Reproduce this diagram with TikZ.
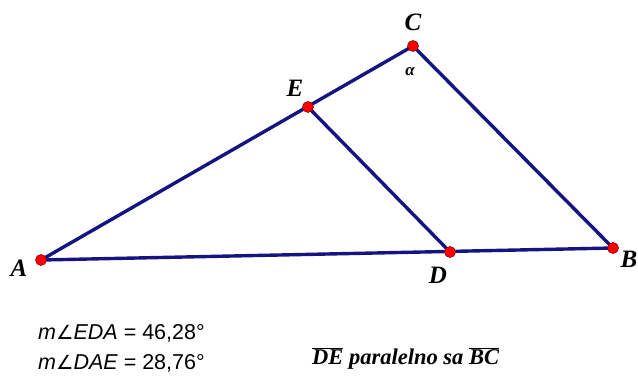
\documentclass[tikz,border=0pt]{standalone}
\usepackage{fontspec}
\setmainfont{Liberation Serif}
\newfontfamily\arialf{Liberation Sans}
\newfontfamily\dejaf{DejaVu Sans}
\begin{document}
\begin{tikzpicture}[x=1pt,y=-1pt,
  seg/.style={draw={rgb,255:red,20;green,20;blue,130},line width=3.4pt},
  pt/.style={circle,fill=red,draw={rgb,255:red,140;green,0;blue,0},line width=0.6pt,minimum size=11pt,inner sep=0pt},
  lbl/.style={font=\fontsize{25}{25}\selectfont\bfseries\itshape,inner sep=0pt},
  meas/.style={font=\arialf\fontsize{21.5}{21.5}\selectfont,anchor=west,inner sep=0pt}]
\useasboundingbox (0,0) rectangle (638,376);
\coordinate (A) at (41,260);
\coordinate (B) at (613,248);
\coordinate (C) at (413,46);
\coordinate (E) at (308,107);
\coordinate (D) at (450,252);
\draw[seg] (A) -- (B);
\draw[seg] (A) -- (C);
\draw[seg] (C) -- (B);
\draw[seg] (E) -- (D);
\node[pt] (pA) at (A) {};
\node[pt] (pB) at (B) {};
\node[pt] (pC) at (C) {};
\node[pt] (pE) at (E) {};
\node[pt] (pD) at (D) {};
\node[lbl] (lA) at (19,268) {A};
\node[lbl] (lB) at (629,259) {B};
\node[lbl] (lC) at (413,22) {C};
\node[lbl] (lE) at (295,88) {E};
\node[lbl] (lD) at (438,275) {D};
\node[font=\fontsize{17}{17}\selectfont\bfseries\itshape,inner sep=0pt] (alpha) at (410,72) {α};
\node[meas] (m1) at (38,333) {\itshape m{\dejaf\fontsize{19.5}{19.5}\selectfont\slshape ∠}EDA\upshape{} = 46,28°};
\node[meas] (m2) at (38,363) {\itshape m{\dejaf\fontsize{19.5}{19.5}\selectfont\slshape ∠}DAE\upshape{} = 28,76°};
\node[anchor=west,inner sep=0pt,font=\fontsize{22.5}{22.5}\selectfont\bfseries\itshape] (par) at (312,358) {$\overline{\mbox{DE}}$ paralelno sa $\overline{\mbox{BC}}$};
\end{tikzpicture}
\end{document}
